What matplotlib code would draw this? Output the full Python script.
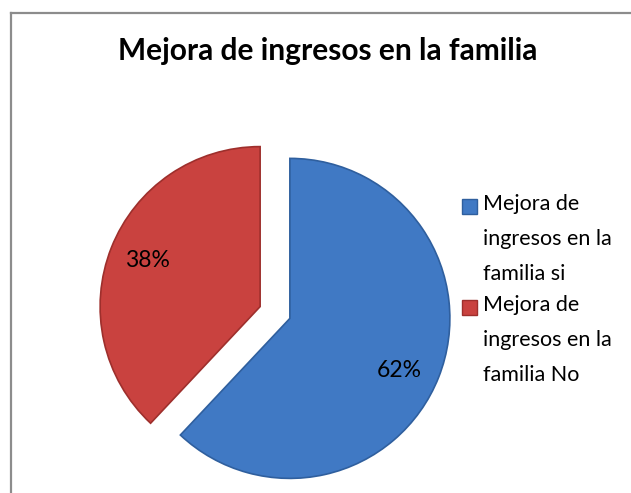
import matplotlib
matplotlib.use("Agg")
import matplotlib.pyplot as plt
import numpy as np
from matplotlib.patches import Rectangle
from matplotlib.lines import Line2D

title = "Mejora de ingresos en la familia"
categories = ["Mejora de\ningresos en la\nfamilia si", "Mejora de\ningresos en la\nfamilia No"]
values = [62, 38]
colors = ["#4079C4", "#C9423F"]
edge_colors = ["#2F5F9E", "#9E2F2C"]

plt.rcParams['font.family'] = ['Lato', 'DejaVu Sans']

W, H = 631, 493
fig = plt.figure(figsize=(W / 100, H / 100), dpi=100)
fig.patch.set_facecolor("white")

# outer border (top and left visible)
fig.add_artist(Line2D([10.5 / W, 1.0], [1 - 12.5 / H, 1 - 12.5 / H], transform=fig.transFigure, color="#8C8C8C", lw=1.6))
fig.add_artist(Line2D([10.5 / W, 10.5 / W], [1 - 12.5 / H, 0.0], transform=fig.transFigure, color="#8C8C8C", lw=1.6))

fig.text(328 / W, 1 - 51 / H, title, ha="center", va="center", fontsize=21.5, fontweight="bold", color="black")

# pie axes: center (275, 312.5) px, radius 160 px
R = 160
cx, cy = 275, 312.5
half = 1.3
size = 2 * half * R
ax = fig.add_axes([(cx - size / 2) / W, (H - cy - size / 2) / H, size / W, size / H])
ax.set_aspect("equal")
ax.axis("off")

wedges, texts, autotexts = ax.pie(values, colors=colors, startangle=90, counterclock=False,
                                  explode=[0.1, 0.1], radius=1.0,
                                  autopct=lambda p: f"{p:.0f}%", pctdistance=0.76,
                                  textprops=dict(fontsize=16.5, color="black"),
                                  wedgeprops=dict(linewidth=1.2))
for w, ec in zip(wedges, edge_colors):
    w.set_edgecolor(ec)
# label placement slightly off the bisector (as in the original chart)
for w, t, dang in zip(wedges, autotexts, [-4, -0.5]):
    ang = np.deg2rad((w.theta1 + w.theta2) / 2 + dang)
    x0, y0 = w.center
    t.set_position((x0 + 0.76 * np.cos(ang), y0 + 0.76 * np.sin(ang)))
ax.set_xlim(-half, half)
ax.set_ylim(-half, half)

# legend (manual, aligned to first line of each entry)
lx, step = 483, 101
for i, (lab, c, ec) in enumerate(zip(categories, colors, edge_colors)):
    top = 199 + i * step
    fig.add_artist(Rectangle((462 / W, 1 - (top + 15) / H), 15 / W, 15 / H, transform=fig.transFigure,
                             facecolor=c, edgecolor=ec, lw=1))
    fig.text(lx / W, 1 - (top - 5) / H, lab, ha="left", va="top", fontsize=15.5,
             linespacing=1.93, color="black")

fig.savefig("out.png", dpi=100)
